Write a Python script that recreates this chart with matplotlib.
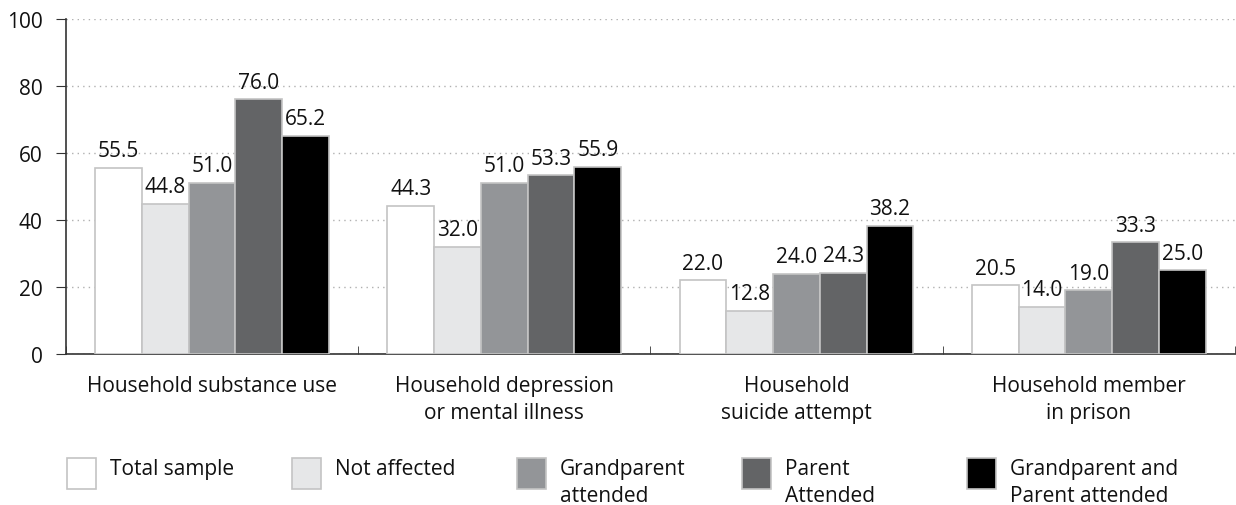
import matplotlib
matplotlib.use("Agg")
import numpy as np
import matplotlib.pyplot as plt
from matplotlib.patches import Rectangle

plt.rcParams['font.family'] = ['Open Sans', 'DejaVu Sans']

# data
categories = ["Household substance use", "Household depression\nor mental illness",
              "Household\nsuicide attempt", "Household member\nin prison"]
series = ["Total sample", "Not affected", "Grandparent\nattended", "Parent\nAttended",
          "Grandparent and\nParent attended"]
total_sample = [55.5, 44.3, 22.0, 20.5]
not_affected = [44.8, 32.0, 12.8, 14.0]
grandparent = [51.0, 51.0, 24.0, 19.0]
parent = [76.0, 53.3, 24.3, 33.3]
both = [65.2, 55.9, 38.2, 25.0]
values = [total_sample, not_affected, grandparent, parent, both]
colors = ["#ffffff", "#e6e7e8", "#939598", "#636466", "#000000"]
edge = "#c4c4c4"
fs = 15
tc = '#111111'

fig = plt.figure(figsize=(12.36, 5.06), dpi=100)
ax = fig.add_axes([66/1236, 1-355/506, 1-66/1236-0.001, (355-20)/506])

x = np.arange(len(categories))
w = 0.16
for i, vals in enumerate(values):
    pos = x + (i - 2) * w
    ax.bar(pos, vals, w, color=colors[i], edgecolor=edge, linewidth=1.2, zorder=3)
    for p, v in zip(pos, vals):
        ax.text(p, v + 2.0, f"{v:.1f}", ha='center', va='bottom', fontsize=fs, color=tc)

ax.set_xlim(-0.5, len(categories) - 0.5)
ax.set_ylim(0, 100)
ax.set_yticks([0, 20, 40, 60, 80, 100])
ax.set_xticks(x)
ax.set_xticklabels(categories, fontsize=fs, color=tc, linespacing=1.4)
ax.set_xticks(np.arange(len(categories) + 1) - 0.5, minor=True)
ax.tick_params(axis='x', which='major', length=0, pad=15)
ax.tick_params(axis='x', which='minor', direction='in', length=6, color='#333333')
ax.tick_params(axis='y', labelsize=fs, length=7, color='#333333', pad=10, labelcolor=tc)
ax.yaxis.grid(True, linestyle=(0, (1, 3)), color='#b0b0b0', linewidth=1, zorder=0)
for s in ['top', 'right']:
    ax.spines[s].set_visible(False)
for s in ['left', 'bottom']:
    ax.spines[s].set_color('#333333')
    ax.spines[s].set_linewidth(1.2)

# legend drawn by hand
for i, (lab, c) in enumerate(zip(series, colors)):
    x0 = 67 + i * 225
    fig.patches.append(Rectangle((x0/1236, 1-490/506), 29/1236, 31/506,
                                 transform=fig.transFigure, facecolor=c,
                                 edgecolor=edge, linewidth=1.2))
    fig.text((x0 + 43)/1236, 1-459/506, lab, ha='left', va='top', fontsize=fs,
             color=tc, linespacing=1.35)

fig.savefig("out.png", dpi=100)
